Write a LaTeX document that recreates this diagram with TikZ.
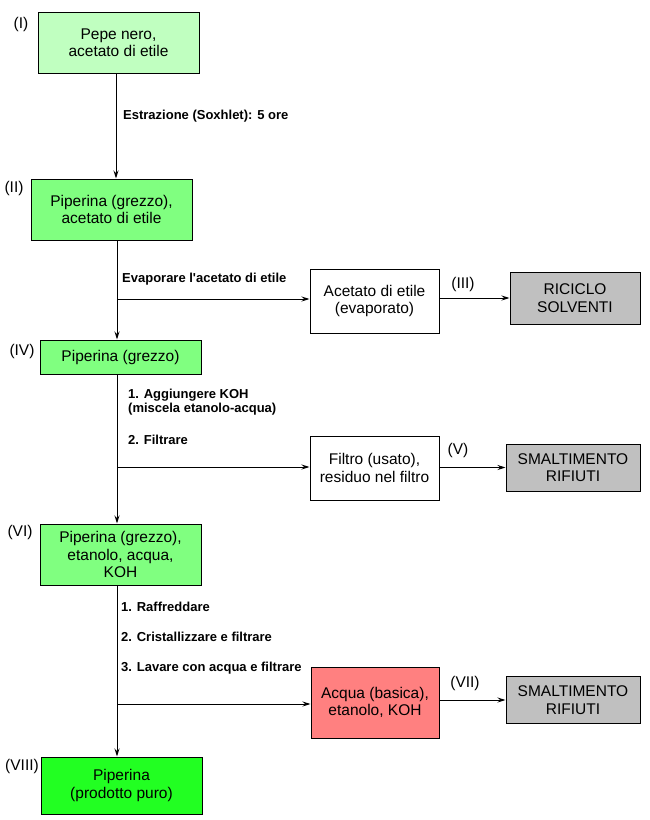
\documentclass[tikz,border=0pt]{standalone}
\usepackage{fontspec}
\setmainfont{Liberation Sans}
\usetikzlibrary{arrows.meta}
\definecolor{gLight}{HTML}{C0FFC0}
\definecolor{gMid}{HTML}{80FF80}
\definecolor{gBright}{HTML}{22FF22}
\definecolor{rSoft}{HTML}{FF8080}
\definecolor{gGrey}{HTML}{C0C0C0}
\begin{document}
\begin{tikzpicture}[x=1pt,y=-1pt,
  box/.style={draw, line width=1pt, inner sep=0pt, align=center, font=\fontsize{15.5}{17.5}\selectfont},
  numlab/.style={inner sep=0pt, font=\fontsize{15.5}{17.5}\selectfont},
  steplab/.style={inner sep=0pt, anchor=west, align=left, font=\fontsize{13}{14.5}\selectfont\bfseries},
  arr/.style={line width=1pt, -{Stealth[length=8pt,width=5pt]}},
  ln/.style={line width=1pt}]
\useasboundingbox (0,0) rectangle (650,820);
% main column
\node[box, fill=gLight, minimum width=161pt, minimum height=61pt] (I) at (118.5,42.5) {Pepe nero,\\acetato di etile};
\node[box, fill=gMid, minimum width=161pt, minimum height=61pt] (II) at (111.5,209.5) {Piperina (grezzo),\\acetato di etile};
\node[box, fill=gMid, minimum width=161pt, minimum height=34pt] (IV) at (120.5,357) {Piperina (grezzo)};
\node[box, fill=gMid, minimum width=161pt, minimum height=61pt] (VI) at (120.5,554.5) {Piperina (grezzo),\\etanolo, acqua,\\KOH};
\node[box, fill=gBright, minimum width=161pt, minimum height=57pt] (VIII) at (121.5,785.5) {Piperina\\(prodotto puro)};
% side boxes
\node[box, fill=white, minimum width=129pt, minimum height=64pt] (ace) at (374.5,301) {Acetato di etile\\(evaporato)};
\node[box, fill=gGrey, minimum width=130pt, minimum height=52pt] (ric) at (575,298) {RICICLO\\SOLVENTI};
\node[box, fill=white, minimum width=129pt, minimum height=64pt] (fil) at (374.5,468) {Filtro (usato),\\residuo nel filtro};
\node[box, fill=gGrey, minimum width=134pt, minimum height=47pt] (smA) at (573,467.5) {SMALTIMENTO\\RIFIUTI};
\node[box, fill=rSoft, minimum width=128pt, minimum height=71pt] (acq) at (375,702.5) {Acqua (basica),\\etanolo, KOH};
\node[box, fill=gGrey, minimum width=134pt, minimum height=47pt] (smB) at (573,700) {SMALTIMENTO\\RIFIUTI};
% number labels
\node[numlab] (nI) at (21,24) {(I)};
\node[numlab] (nII) at (14,188) {(II)};
\node[numlab] (nIII) at (463,284) {(III)};
\node[numlab] (nIV) at (22,351) {(IV)};
\node[numlab] (nV) at (458,450) {(V)};
\node[numlab] (nVI) at (20,532) {(VI)};
\node[numlab] (nVII) at (465,683) {(VII)};
\node[numlab] (nVIII) at (22,766) {(VIII)};
% step labels
\node[steplab] (s1) at (123,116) {Estrazione (Soxhlet): 5 ore};
\node[steplab] (s2) at (122,279) {Evaporare l\textquotesingle acetato di etile};
\node[steplab] (s3) at (128,402) {1. Aggiungere KOH\\(miscela etanolo-acqua)};
\node[steplab] (s4) at (128,440) {2. Filtrare};
\node[steplab] (s5) at (121,607) {1. Raffreddare};
\node[steplab] (s6) at (121,637) {2. Cristallizzare e filtrare};
\node[steplab] (s7) at (121,668) {3. Lavare con acqua e filtrare};
% trunk coordinates
\coordinate (tA) at (116,0);
\coordinate (tB) at (117,0);
\coordinate (b1) at (117,299);
\coordinate (b2) at (117,467);
\coordinate (b3) at (117,704);
% connectors
\draw[arr] (I.south -| tA) -- (II.north -| tA);
\draw[arr] (II.south -| tB) -- (IV.north -| tB);
\draw[arr] (IV.south -| tB) -- (VI.north -| tB);
\draw[arr] (VI.south -| tB) -- (VIII.north -| tB);
\draw[arr] (b1) -- (ace.west |- b1);
\draw[arr] (b2) -- (fil.west |- b2);
\draw[arr] (b3) -- (acq.west |- b3);
\draw[arr] (ace.east |- ric) -- (ric.west);
\draw[arr] (fil.east |- smA) -- (smA.west);
\draw[arr] (acq.east |- smB) -- (smB.west);
\end{tikzpicture}
\end{document}
